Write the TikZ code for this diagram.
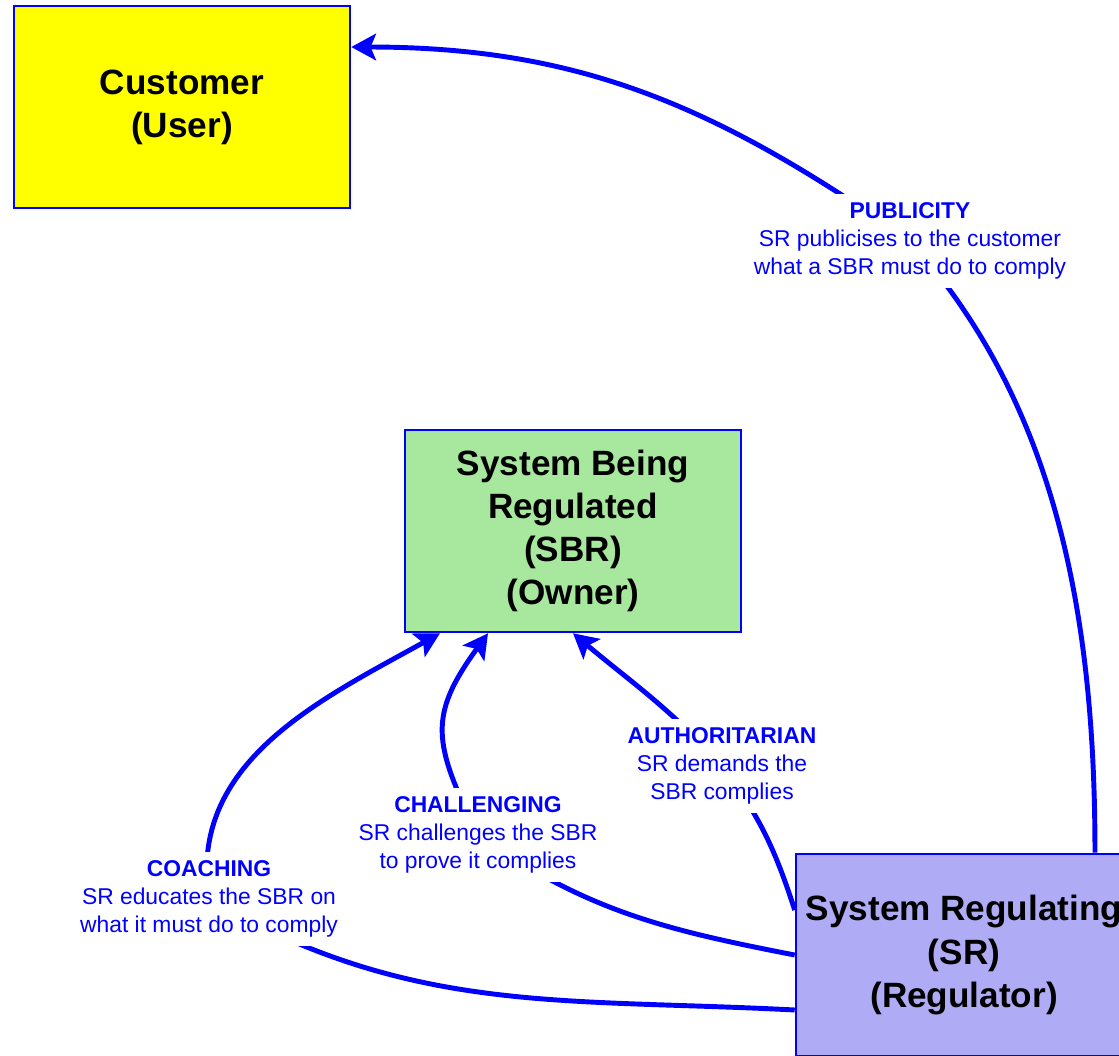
\documentclass[tikz,border=0pt]{standalone}
\usepackage{fontspec}
\setmainfont{Liberation Sans}
\usetikzlibrary{arrows.meta,backgrounds}
\definecolor{custyellow}{RGB}{255,255,0}
\definecolor{sbrgreen}{RGB}{168,232,158}
\definecolor{srlilac}{RGB}{175,172,245}
\tikzset{
	party/.style={draw=blue, line width=1.5pt, minimum width=6.72cm, minimum height=4.04cm,
		inner sep=0pt, align=center, font=\fontsize{20}{24.5}\selectfont\bfseries},
	howto/.style={fill=white, text=blue, align=center, inner xsep=2pt, inner ysep=5pt,
		font=\fontsize{13}{15.9}\selectfont},
	reglink/.style={draw=blue, line width=2.8pt, -{Stealth[length=14pt,width=15pt,inset=3pt]}}
}
\begin{document}
\begin{tikzpicture}[x=0.02cm,y=0.02cm]
		\useasboundingbox (0,0) rectangle (1119,-1055);
		% the three parties
		\node[party, fill=custyellow] (cust) at (182,-107) {Customer\\(User)};
		\node[party, fill=sbrgreen] (sbr) at (573,-531) {System Being\\Regulated\\(SBR)\\(Owner)};
		\node[party, fill=srlilac] (sr) at (964,-955) {System Regulating\\(SR)\\(Regulator)};
		% the four ways of regulating
		\node[howto] (pub) at (910,-241) {\textbf{PUBLICITY}\\SR publicises to the customer\\what a SBR must do to comply};
		\node[howto] (auth) at (722,-766) {\textbf{AUTHORITARIAN}\\SR demands the\\SBR complies};
		\node[howto] (chal) at (478,-835) {\textbf{CHALLENGING}\\SR challenges the SBR\\to prove it complies};
		\node[howto] (coach) at (209,-899) {\textbf{COACHING}\\SR educates the SBR on\\what it must do to comply};
		\begin{scope}[on background layer]
			\draw[reglink] ([xshift=2.62cm]sr.north) to[out=90,in=-48,looseness=0.9] (pub.center)
				to[out=145,in=0] ([yshift=1.2cm]cust.east);
			\draw[reglink] ([yshift=0.9cm]sr.west) to[out=108,in=-53] (auth.center)
				to[out=132,in=-40] (sbr.south);
			\draw[reglink] (sr.west) to[out=169,in=-35] (chal.center)
				to[out=116,in=-126,looseness=1.3] ([xshift=-1.7cm]sbr.south);
			\draw[reglink] ([yshift=-1.1cm]sr.west) to[out=177,in=-30] (coach.center)
				to[out=99,in=-151] ([xshift=-2.66cm]sbr.south);
		\end{scope}
	\end{tikzpicture}
\end{document}
